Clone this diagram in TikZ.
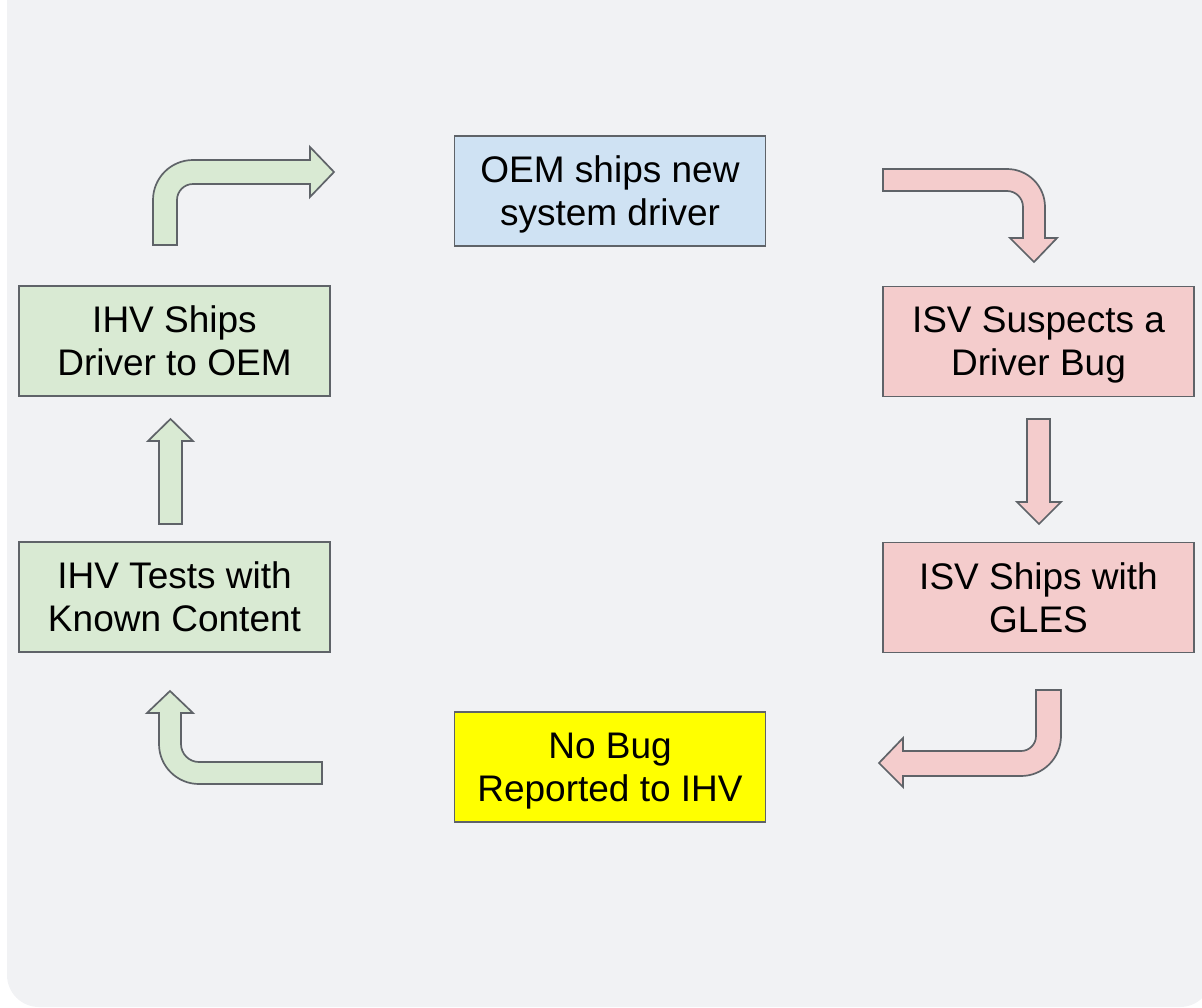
\documentclass[tikz,border=0pt]{standalone}
\usepackage{fontspec}
\setmainfont{Liberation Sans}
\definecolor{bgc}{HTML}{F1F2F4}
\definecolor{edge}{HTML}{5F6368}
\definecolor{ihvgreen}{HTML}{D9EAD3}
\definecolor{isvred}{HTML}{F4CCCC}
\definecolor{oemblue}{HTML}{CFE2F3}
\definecolor{nobugyellow}{HTML}{FFFF00}
\newcommand{\boxfont}{\fontsize{37}{43}\selectfont}

\begin{document}
\begin{tikzpicture}[x=1pt,y=-1pt,
    stage/.style={draw=edge,line width=1.6pt,minimum width=311pt,minimum height=110pt,
      inner sep=0pt,align=center,font=\boxfont,text depth=0pt},
    greenarrow/.style={draw=edge,line width=1.7pt,fill=ihvgreen},
    redarrow/.style={draw=edge,line width=1.7pt,fill=isvred}]
  \useasboundingbox (0,0) rectangle (1202,1007);
  \fill[bgc,rounded corners=32pt] (7,-60) rectangle (1212,1007);

  \node[stage,fill=oemblue]     (oem)     at (610,191)      {OEM ships new\\system driver};
  \node[stage,fill=isvred]      (suspect) at (1038.5,341.5) {ISV Suspects a\\Driver Bug};
  \node[stage,fill=isvred]      (gles)    at (1038.5,597.5) {ISV Ships with\\GLES};
  \node[stage,fill=nobugyellow] (nobug)   at (610,767)      {No Bug\\Reported to IHV};
  \node[stage,fill=ihvgreen]    (tests)   at (174.5,597)    {IHV Tests with\\Known Content};
  \node[stage,fill=ihvgreen]    (ships)   at (174.5,341)    {IHV Ships\\Driver to OEM};

  \draw[redarrow] (883,169) -- (1007,169) arc(270:360:38) -- (1045,238) -- (1057,238)
    -- (1034,262) -- (1010,238) -- (1023,238) -- (1023,207) arc(0:-90:16) -- (883,191) -- cycle;
  \draw[redarrow] (1027,419) -- (1050,419) -- (1050,502) -- (1061,502) -- (1039,524)
    -- (1017,502) -- (1027,502) -- cycle;
  \draw[redarrow] (1036,690) -- (1061,690) -- (1061,736) arc(0:90:40) -- (903,776) -- (903,787)
    -- (879,763) -- (903,738) -- (903,751) -- (1021,751) arc(90:0:15) -- cycle;
  \draw[greenarrow] (322,762) -- (322,784) -- (199,784) arc(90:180:40) -- (159,713) -- (147,713)
    -- (170,691) -- (193,713) -- (181,713) -- (181,744) arc(180:90:18) -- cycle;
  \draw[greenarrow] (159,524) -- (182,524) -- (182,441) -- (193,441) -- (170.5,419)
    -- (148,441) -- (159,441) -- cycle;
  \draw[greenarrow] (153,245) -- (153,200) arc(180:270:40) -- (310,160) -- (310,147) -- (334,172)
    -- (310,197) -- (310,184) -- (193,184) arc(270:180:16) -- (177,245) -- cycle;
\end{tikzpicture}
\end{document}
